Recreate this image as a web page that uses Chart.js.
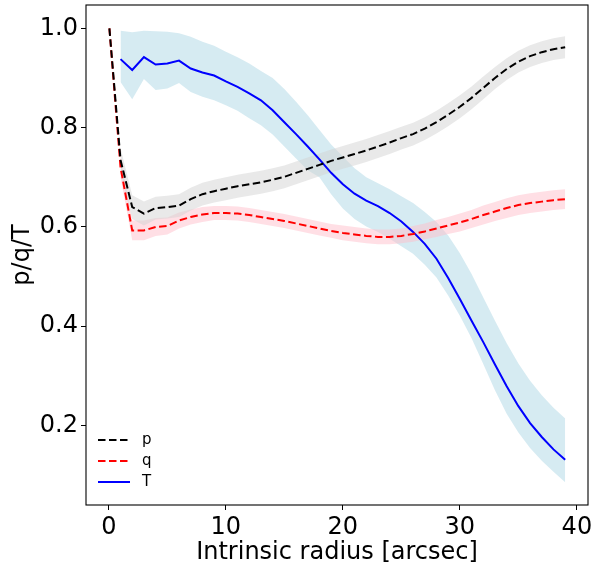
<!DOCTYPE html>
<html lang="en">
<head>
<meta charset="UTF-8" />
<title>p/q/T profile</title>
<style>
  body {margin:0;background:#fff;}
  #wrap {width:592px;height:569px;}
</style>
</head>
<body>
<div id="wrap"><canvas id="chart" width="592" height="569"></canvas></div>

<script src="https://cdn.jsdelivr.net/npm/chart.js"></script>
<script>
// radii for the sampled profile (arcsec)
const radius = [1,2,3,4,5,6,7,8,9,10,11,12,13,14,15,16,17,18,19,20,
                21,22,23,24,25,26,27,28,29,30,31,32,33,34,35,36,37,38,39];
const startRadius = 0.05; // p and q also start here at 1.0

const p = [1.0, 0.735,0.640,0.627,0.638,0.640,0.643,0.656,0.666,0.672,0.677,
           0.682,0.686,0.690,0.695,0.701,0.709,0.717,0.725,0.733,0.740,
           0.747,0.754,0.762,0.770,0.779,0.787,0.798,0.811,0.826,0.842,
           0.860,0.880,0.900,0.918,0.933,0.944,0.952,0.958,0.962];
const q = [1.0, 0.720,0.593,0.593,0.600,0.602,0.613,0.620,0.625,0.628,0.628,
           0.627,0.624,0.620,0.616,0.612,0.607,0.602,0.597,0.592,0.588,
           0.585,0.582,0.580,0.580,0.582,0.586,0.591,0.597,0.603,0.609,
           0.616,0.624,0.631,0.638,0.644,0.648,0.651,0.654,0.656];
// half-widths of the shaded bands of p and q (one per radius)
const pErr = [0.024,0.024,0.024,0.023,0.023,0.023,0.023,0.023,0.023,0.023,
              0.023,0.023,0.023,0.023,0.023,0.023,0.023,0.023,0.023,0.023,
              0.023,0.023,0.023,0.023,0.023,0.023,0.023,0.023,0.023,0.023,
              0.023,0.023,0.022,0.022,0.022,0.022,0.022,0.022,0.022];
const qErr = [0.020,0.020,0.020,0.018,0.017,0.016,0.015,0.015,0.014,0.014,
              0.014,0.014,0.014,0.014,0.014,0.014,0.014,0.014,0.014,0.015,
              0.015,0.015,0.015,0.015,0.015,0.016,0.016,0.017,0.017,0.018,
              0.018,0.019,0.019,0.020,0.020,0.020,0.020,0.020,0.020];

const T   = [0.938,0.916,0.942,0.927,0.929,0.935,0.919,0.911,0.905,0.893,
             0.882,0.869,0.855,0.835,0.811,0.787,0.762,0.736,0.709,0.686,
             0.667,0.653,0.642,0.628,0.611,0.590,0.566,0.536,0.497,0.455,
             0.411,0.368,0.323,0.279,0.239,0.205,0.177,0.152,0.131];
const Thi = [0.995,0.992,0.995,0.994,0.993,0.990,0.983,0.973,0.965,0.953,
             0.942,0.929,0.914,0.900,0.878,0.852,0.825,0.795,0.766,0.742,
             0.718,0.700,0.688,0.676,0.662,0.648,0.630,0.610,0.583,0.547,
             0.505,0.458,0.411,0.366,0.325,0.290,0.261,0.236,0.214];
const Tlo = [0.892,0.857,0.898,0.876,0.879,0.890,0.872,0.862,0.855,0.845,
             0.834,0.819,0.805,0.786,0.762,0.738,0.714,0.700,0.666,0.637,
             0.616,0.601,0.590,0.576,0.561,0.546,0.524,0.498,0.462,0.421,
             0.376,0.324,0.271,0.224,0.186,0.155,0.129,0.107,0.086];

const xTicks = [0,10,20,30,40];
const yTicks = [0.2,0.4,0.6,0.8,1.0];

const pts = (xs, ys) => xs.map((x,i) => ({x:x, y:ys[i]}));
const radiusPQ = [startRadius].concat(radius);

const DASH = [7.5,3.5];
const FONT = 'DejaVu Sans';

function band(lo, hi, color) {
  return [
    {data: pts(radius, lo), borderWidth:0, pointRadius:0, fill:false, order:2},
    {data: pts(radius, hi), borderWidth:0, pointRadius:0, fill:'-1', backgroundColor:color, order:2}
  ];
}

const datasets = [
  ...band(p.slice(1).map((v,i)=>v-pErr[i]), p.slice(1).map((v,i)=>v+pErr[i]), 'rgba(211,211,211,0.5)'),
  ...band(q.slice(1).map((v,i)=>v-qErr[i]), q.slice(1).map((v,i)=>v+qErr[i]), 'rgba(255,192,203,0.5)'),
  ...band(Tlo, Thi, 'rgba(173,216,230,0.5)'),
  {label:'p', legend:true, data: pts(radiusPQ, p), borderColor:'#000', borderDash:DASH, borderWidth:2, pointRadius:0, fill:false, order:1},
  {label:'q', legend:true, data: pts(radiusPQ, q), borderColor:'#ff0000', borderDash:DASH, borderWidth:2, pointRadius:0, fill:false, order:1},
  {label:'T', legend:true, data: pts(radius, T), borderColor:'#0000ff', borderWidth:2, pointRadius:0, fill:false, order:1}
];

// frame around the plot area + legend in the lower left corner
const framePlugin = {
  id: 'frame',
  afterDraw(chart) {
    const {ctx, chartArea: a} = chart;
    ctx.save();
    ctx.strokeStyle = '#000';
    ctx.lineWidth = 1.1;
    ctx.strokeRect(a.left, a.top, a.right - a.left, a.bottom - a.top);

    const items = chart.data.datasets.filter(d => d.legend);
    ctx.font = '15px "' + FONT + '"';
    ctx.textBaseline = 'middle';
    items.forEach((d, i) => {
      const y = a.bottom - 65 + i * 21;
      ctx.beginPath();
      ctx.setLineDash(d.borderDash || []);
      ctx.strokeStyle = d.borderColor;
      ctx.lineWidth = 2;
      ctx.moveTo(a.left + 12, y);
      ctx.lineTo(a.left + 44, y);
      ctx.stroke();
      ctx.fillStyle = '#000';
      ctx.fillText(d.label, a.left + 56, y);
    });
    ctx.restore();
  }
};

new Chart(document.getElementById('chart'), {
  type: 'line',
  data: {datasets},
  options: {
    responsive: false,
    animation: false,
    layout: {padding: {top:5, right:4, left:0, bottom:0}},
    plugins: {legend:{display:false}, tooltip:{enabled:false}},
    elements: {line:{tension:0}},
    scales: {
      x: {
        type: 'linear',
        min: -1.95, max: 40.95,
        afterBuildTicks: s => { s.ticks = xTicks.map(v => ({value:v})); },
        afterFit: s => { s.height = 64; s.paddingLeft = 0; s.paddingRight = 0; },
        grid: {drawOnChartArea:false, drawTicks:true, tickLength:5, tickColor:'#000'},
        border: {display:false},
        ticks: {color:'#000', font:{family:FONT, size:24}, padding:3, maxRotation:0,
                callback: v => String(v)},
        title: {display:true, text:'Intrinsic radius [arcsec]', color:'#000',
                font:{family:FONT, size:24}, padding:{top:0, bottom:2}}
      },
      y: {
        min: 0.04, max: 1.047,
        afterBuildTicks: s => { s.ticks = yTicks.map(v => ({value:v})); },
        afterFit: s => { s.width = 86; s.paddingTop = 0; s.paddingBottom = 0; },
        grid: {drawOnChartArea:false, drawTicks:true, tickLength:5, tickColor:'#000'},
        border: {display:false},
        ticks: {color:'#000', font:{family:FONT, size:24}, padding:3,
                callback: v => v.toFixed(1)},
        title: {display:true, text:'p/q/T', color:'#000',
                font:{family:FONT, size:24}, padding:{top:8, bottom:0}}
      }
    }
  },
  plugins: [framePlugin]
});
</script>
</body>
</html>
